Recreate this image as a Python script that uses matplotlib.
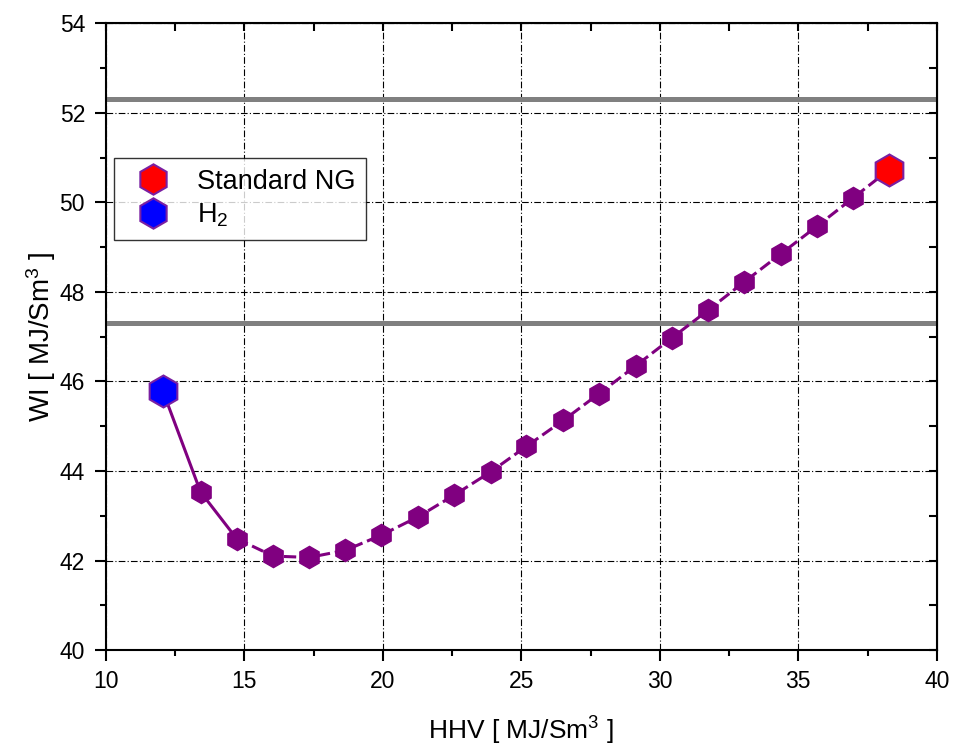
import matplotlib
matplotlib.use("Agg")
import matplotlib.pyplot as plt
from matplotlib.ticker import MultipleLocator

plt.rcParams['font.family'] = ['Liberation Sans', 'DejaVu Sans']
plt.rcParams['mathtext.fontset'] = 'custom'
plt.rcParams['mathtext.rm'] = 'Liberation Sans'
plt.rcParams['mathtext.it'] = 'Liberation Sans:italic'

# Data
hhv = [12.06, 13.42, 14.72, 16.04, 17.34, 18.65, 19.95, 21.28, 22.57, 23.89,
       25.18, 26.51, 27.81, 29.13, 30.43, 31.74, 33.04, 34.37, 35.68, 36.98, 38.28]
wi = [45.78, 43.53, 42.49, 42.10, 42.07, 42.23, 42.57, 42.98, 43.46, 43.98,
      44.55, 45.13, 45.73, 46.35, 46.97, 47.59, 48.22, 48.85, 49.47, 50.10, 50.73]
limits = [52.3, 47.3]

purple = '#800080'
edge = '#7a1fa2'

fig = plt.figure(figsize=(9.54, 7.49), dpi=100)
ax = fig.add_axes([0.111, 0.132, 0.871, 0.837])

for lim in limits:
    ax.axhline(lim, color='#808080', lw=3.6, zorder=2)

# first part of the curve is solid, the rest dashed
ax.plot(hhv[:3], wi[:3], color=purple, lw=2.2, zorder=3)
ax.plot(hhv[2:], wi[2:], color=purple, lw=2.2, dashes=(4, 1.6), zorder=3)
ax.plot(hhv[1:-1], wi[1:-1], ls='none', marker='h', ms=16,
        mfc=purple, mec=purple, zorder=4)

ax.plot(hhv[-1], wi[-1], ls='none', marker='h', ms=23, mfc='red',
        mec=edge, mew=1.5, zorder=5, label='Standard NG')
ax.plot(hhv[0], wi[0], ls='none', marker='h', ms=23, mfc='blue',
        mec=edge, mew=1.5, zorder=5, label='H$_2$')

ax.set_xlim(10, 40)
ax.set_ylim(40, 54)
ax.xaxis.set_major_locator(MultipleLocator(5))
ax.xaxis.set_minor_locator(MultipleLocator(2.5))
ax.yaxis.set_major_locator(MultipleLocator(2))
ax.yaxis.set_minor_locator(MultipleLocator(1))

ax.grid(True, which='major', color='black', lw=0.8, ls=(0, (6, 2, 1, 2)), zorder=1)
ax.tick_params(which='major', direction='out', length=8, width=1.5,
               labelsize=16.5, pad=6)
ax.tick_params(axis='y', which='major', pad=7)
ax.tick_params(which='minor', direction='out', length=4, width=1.5)
for s in ax.spines.values():
    s.set_linewidth(1.5)

# mirrored ticks on top/right pointing inward
top = ax.secondary_xaxis('top')
top.xaxis.set_major_locator(MultipleLocator(5))
top.xaxis.set_minor_locator(MultipleLocator(2.5))
top.tick_params(which='both', direction='in', length=6, width=1.5, labeltop=False)
right = ax.secondary_yaxis('right')
right.yaxis.set_major_locator(MultipleLocator(2))
right.yaxis.set_minor_locator(MultipleLocator(1))
right.tick_params(which='both', direction='in', length=6, width=1.5, labelright=False)

ax.set_xlabel('HHV [ MJ/Sm$^3$ ]', fontsize=19, labelpad=16)
ax.set_ylabel('WI [ MJ/Sm$^3$ ]', fontsize=20, labelpad=1)

leg = ax.legend(loc='upper left', bbox_to_anchor=(0.010, 0.785), fontsize=19.5,
                frameon=True, fancybox=False, edgecolor='black',
                borderpad=0.4, handlelength=2.1, handletextpad=0.55,
                labelspacing=0.25, markerscale=0.95, borderaxespad=0)
leg.get_frame().set_linewidth(1.0)

fig.savefig('out.png', dpi=100)
